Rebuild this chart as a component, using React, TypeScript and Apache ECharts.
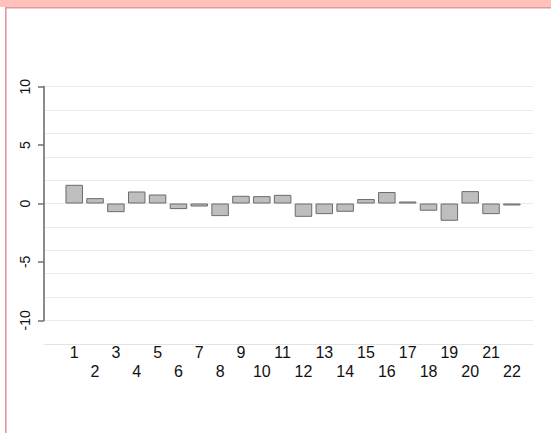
import React, { useEffect, useRef } from "react";
import * as echarts from "echarts";

// Category labels 1..22 and the bar heights for each
const categories: string[] = [
  "1", "2", "3", "4", "5", "6", "7", "8", "9", "10", "11",
  "12", "13", "14", "15", "16", "17", "18", "19", "20", "21", "22",
];
const values: number[] = [
  1.6, 0.46, -0.74, 1.03, 0.77, -0.48, -0.26, -1.08, 0.66, 0.63, 0.74,
  -1.14, -0.91, -0.71, 0.38, 0.98, 0.17, -0.62, -1.48, 1.06, -0.91, -0.17,
];
const yMin = -10;
const yMax = 10;
const yLabelStep = 5;
const yGridStep = 2;

const W = 551;
const H = 433;
const FONT = "'Liberation Sans', Arial, Helvetica, sans-serif";

export default function App() {
  const ref = useRef<HTMLDivElement>(null);

  useEffect(() => {
    if (!ref.current) return;
    const chart = echarts.init(ref.current, undefined, { renderer: "svg", width: W, height: H });

    const plotTop = 86.7;
    const plotBottom = H - 320.3;

    chart.setOption({
      animation: false,
      backgroundColor: "#ffffff",
      graphic: [
        // header band
        { type: "rect", shape: { x: 0, y: 0, width: W, height: 7 }, style: { fill: "#ffc1b9" }, silent: true },
        // frame top and left edges
        { type: "rect", shape: { x: 5, y: 7, width: W - 5, height: 1.6 }, style: { fill: "#e0999a" }, silent: true },
        { type: "rect", shape: { x: 5, y: 7, width: 1.6, height: H - 7 }, style: { fill: "#e0999a" }, silent: true },
      ],
      grid: [
        { left: 44, right: 18, top: plotTop, bottom: plotBottom },
        { left: 63.8, right: 28.7, top: plotTop, bottom: plotBottom },
      ],
      xAxis: [
        {
          // baseline drawn below the plotted range
          gridIndex: 0,
          type: "value",
          min: 0,
          max: 1,
          offset: 23.7,
          axisLine: { show: true, onZero: false, lineStyle: { color: "#e3e3e3", width: 1 } },
          axisTick: { show: false },
          axisLabel: { show: false },
          splitLine: { show: false },
        },
        {
          gridIndex: 1,
          type: "category",
          data: categories,
          offset: 22,
          axisLine: { show: false, onZero: false },
          axisTick: { show: false },
          splitLine: { show: false },
          axisLabel: {
            interval: 0,
            margin: 0,
            fontFamily: FONT,
            fontSize: 16,
            lineHeight: 19.5,
            color: "#111",
            formatter: (v: string, i: number) => (i % 2 === 0 ? v : "\n" + v),
          },
        },
      ],
      yAxis: [
        {
          gridIndex: 0,
          type: "value",
          min: yMin,
          max: yMax,
          interval: yLabelStep,
          axisLine: { show: true, lineStyle: { color: "#8a8a8a", width: 2 } },
          axisTick: { show: true, length: 6, lineStyle: { color: "#707070", width: 1.5 } },
          axisLabel: {
            rotate: 90,
            margin: 12,
            fontFamily: FONT,
            fontSize: 14,
            color: "#111",
          },
          splitLine: { show: false },
        },
        {
          gridIndex: 0,
          type: "value",
          min: yMin,
          max: yMax,
          interval: yGridStep,
          position: "left",
          axisLine: { show: false },
          axisTick: { show: false },
          axisLabel: { show: false },
          splitLine: { show: true, lineStyle: { color: "#ebebeb", width: 1 } },
          z: 0,
        },
        {
          gridIndex: 1,
          type: "value",
          min: yMin,
          max: yMax,
          show: false,
        },
      ],
      series: [
        {
          type: "bar",
          xAxisIndex: 1,
          yAxisIndex: 2,
          data: values,
          barWidth: 17.5,
          itemStyle: { color: "#bebebe", borderColor: "#6b6b6b", borderWidth: 1 },
          z: 3,
        },
      ],
    });

    return () => chart.dispose();
  }, []);

  return (
    <div
      ref={ref}
      style={{ position: "fixed", left: 0, top: 0, width: W, height: H, background: "#fff" }}
    />
  );
}
